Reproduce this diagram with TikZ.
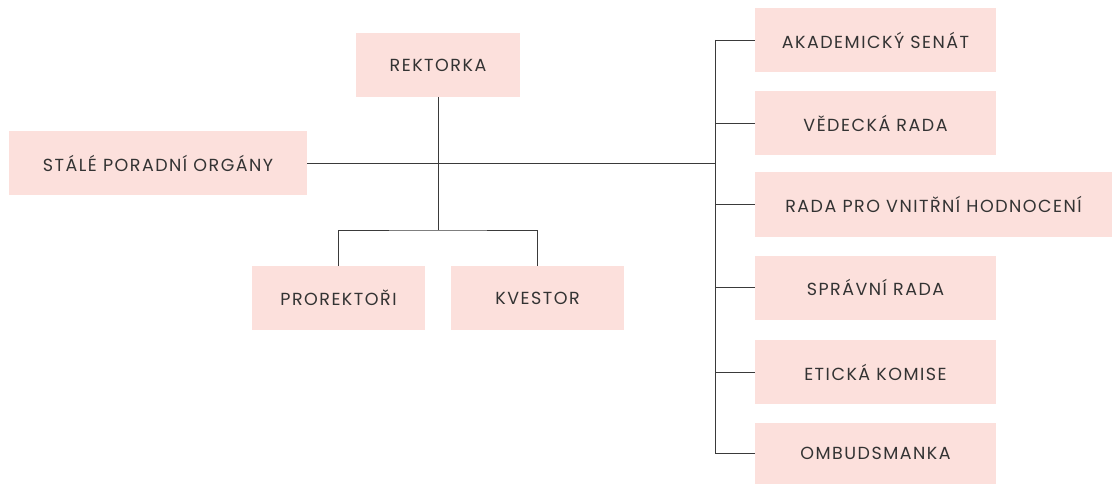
\documentclass[tikz,border=0pt]{standalone}
\usepackage{fontspec}
\setmainfont{Poppins}
\newfontfamily\orgfont[LetterSpace=8.5]{Poppins}
\usepackage{tikz}
\usetikzlibrary{calc}

\definecolor{boxpink}{HTML}{FCE0DC}
\definecolor{inkgrey}{HTML}{333333}
\definecolor{linegrey}{HTML}{3A3A3A}

\begin{document}
\begin{tikzpicture}[x=1pt,y=-1pt]
      \tikzset{unit box/.style={fill=boxpink,
          text=inkgrey,
          inner sep=0pt,
          outer sep=0pt,
          minimum height=64pt,
          minimum width=#1,
          font=\orgfont\fontsize{17.5}{20}\selectfont},
        unit box/.default=241pt,
        org line/.style={draw=linegrey,line width=0.8pt}
      }
      \useasboundingbox (0,0) rectangle (1112,484);

      \node [unit box=164pt] (rektor) at (438,65) {REKTORKA};
      \node [unit box=298pt] (porad) at (158,163) {STÁLÉ PORADNÍ ORGÁNY};
      \node [unit box=173pt] (prorek) at (338.5,298) {PROREKTOŘI};
      \node [unit box=173pt] (kvestor) at (537.5,298) {KVESTOR};

      \node [unit box] (senat) at (875.5,40) {AKADEMICKÝ SENÁT};
      \node [unit box] (vedrada) at (875.5,123) {VĚDECKÁ RADA};
      \node [unit box=357pt] (hodnot) at (933.5,204.5) {RADA PRO VNITŘNÍ HODNOCENÍ};
      \node [unit box] (sprava) at (875.5,287.5) {SPRÁVNÍ RADA};
      \node [unit box] (etika) at (875.5,372) {ETICKÁ KOMISE};
      \node [unit box=241pt,minimum height=61pt] (ombud) at (875.5,453.5) {OMBUDSMANKA};

      \coordinate (hub) at (rektor.south|-porad.east);
      \coordinate (split) at ($(rektor.south)+(0,133)$);
      \coordinate (trunk) at (715,163);

      \draw [org line] (porad.east)--(trunk);
      \draw [org line] (rektor.south)--(split);
      \draw [org line] (prorek.north)|-(split)-|(kvestor.north);

      \draw [org line] (senat.west-|trunk)--(ombud.west-|trunk);
      \foreach \n in {senat,vedrada,hodnot,sprava,etika,ombud}
        \draw [org line] (\n.west-|trunk)--(\n.west);
    \end{tikzpicture}
\end{document}
